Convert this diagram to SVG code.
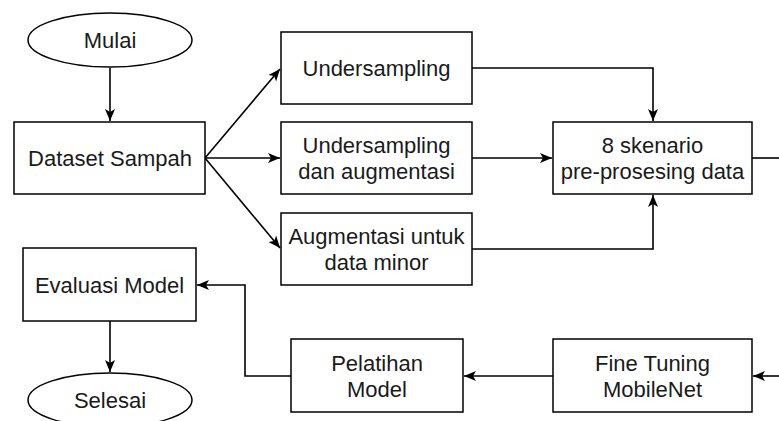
<svg xmlns="http://www.w3.org/2000/svg" width="779" height="421" viewBox="0 0 779 421">
<style>
.box{fill:#fff;stroke:#000;stroke-width:1.5}
.t{font-family:"Liberation Sans",Arial,sans-serif;font-size:22px;fill:#1a1a1a;text-anchor:middle}
.c{fill:none;stroke:#000;stroke-width:1.6}
</style>
<defs>
<marker id="a" markerWidth="13" markerHeight="12" refX="12" refY="6" orient="auto" markerUnits="userSpaceOnUse">
<path d="M0,1 L12,6 L0,11 L3,6 z" fill="#000"/>
</marker>
</defs>
<rect width="779" height="421" fill="#fff"/>
<g id="connectors">
<path class="c" d="M110,68 V121" marker-end="url(#a)"/>
<path class="c" d="M205,158 L280,69" marker-end="url(#a)"/>
<path class="c" d="M205,158 H280" marker-end="url(#a)"/>
<path class="c" d="M205,158 L280,248" marker-end="url(#a)"/>
<path class="c" d="M472,68 H653 V121" marker-end="url(#a)"/>
<path class="c" d="M472,158 H552" marker-end="url(#a)"/>
<path class="c" d="M472,249 H653 V195" marker-end="url(#a)"/>
<path class="c" d="M752,158 H779"/>
<path class="c" d="M779,376 H753" marker-end="url(#a)"/>
<path class="c" d="M553,376 H464" marker-end="url(#a)"/>
<path class="c" d="M291,376 H245 V285 H197" marker-end="url(#a)"/>
<path class="c" d="M110,321 V372" marker-end="url(#a)"/>
</g>
<g id="mulai"><ellipse class="box" cx="110" cy="40" rx="82" ry="27"/><text class="t" x="110" y="48">Mulai</text></g>
<g id="dataset"><rect class="box" x="14" y="122" width="191" height="72"/><text class="t" x="110" y="166">Dataset Sampah</text></g>
<g id="undersampling"><rect class="box" x="281" y="32" width="191" height="72"/><text class="t" x="376.5" y="76">Undersampling</text></g>
<g id="undersampling-aug"><rect class="box" x="281" y="122" width="191" height="72"/><text class="t" x="376.5" y="153">Undersampling</text><text class="t" x="376.5" y="179">dan augmentasi</text></g>
<g id="aug-minor"><rect class="box" x="281" y="213" width="191" height="72"/><text class="t" x="376.5" y="244">Augmentasi untuk</text><text class="t" x="376.5" y="270">data minor</text></g>
<g id="skenario"><rect class="box" x="553" y="122" width="199" height="72"/><text class="t" x="652.5" y="153">8 skenario</text><text class="t" x="652.5" y="179">pre-prosesing data</text></g>
<g id="evaluasi"><rect class="box" x="23" y="248" width="173" height="73"/><text class="t" x="109.5" y="293">Evaluasi Model</text></g>
<g id="pelatihan"><rect class="box" x="291" y="339" width="172" height="73"/><text class="t" x="377" y="371">Pelatihan</text><text class="t" x="377" y="397">Model</text></g>
<g id="finetuning"><rect class="box" x="553" y="339" width="199" height="73"/><text class="t" x="652.5" y="371">Fine Tuning</text><text class="t" x="652.5" y="397">MobileNet</text></g>
<g id="selesai"><ellipse class="box" cx="110" cy="400" rx="82" ry="27"/><text class="t" x="110" y="408">Selesai</text></g>
</svg>
